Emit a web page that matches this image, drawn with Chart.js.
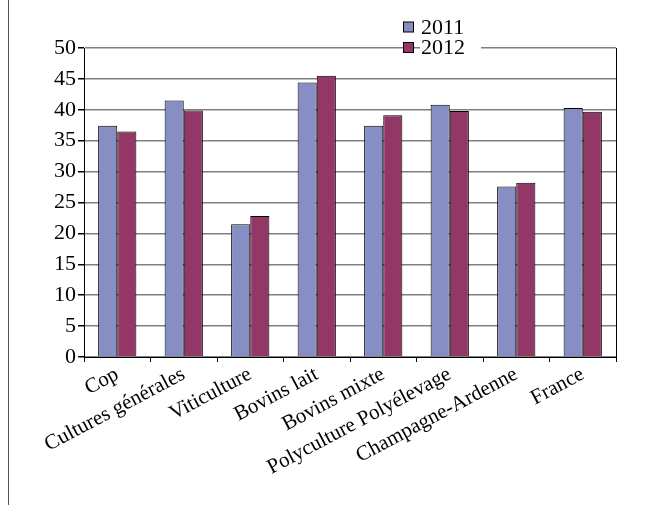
<!DOCTYPE html>
<html>
<head>
<meta charset="utf-8">
<script src="https://cdn.jsdelivr.net/npm/chart.js@4.4.0/dist/chart.umd.min.js"></script>
<style>
  body { margin: 0; background: #fff; }
  canvas { display: block; }
</style>
</head>
<body>
<canvas id="chart" width="666" height="505"></canvas>
<script>
// Data
const categories = ['Cop', 'Cultures générales', 'Viticulture', 'Bovins lait', 'Bovins mixte',
    'Polyculture Polyélevage', 'Champagne-Ardenne', 'France'];
const values2011 = [37.4, 41.5, 21.5, 44.4, 37.4, 40.8, 27.6, 40.3];
const values2012 = [36.5, 39.9, 22.8, 45.5, 39.1, 39.8, 28.2, 39.7];
const seriesLabels = ['2011', '2012'];
const seriesColors = ['#868ec4', '#933767'];

const serif = '"Liberation Serif", "DejaVu Serif", serif';

// Frame line at left, right border of the plot and the legend drawn on top of the grid
const decorations = {
    id: 'decorations',
    beforeDraw(chart) {
        const c = chart.ctx;
        c.save();
        c.strokeStyle = '#555';
        c.lineWidth = 1;
        c.beginPath();
        c.moveTo(8.5, 0);
        c.lineTo(8.5, chart.height);
        c.stroke();
        c.restore();
    },
    afterDraw(chart) {
        const c = chart.ctx;
        const a = chart.chartArea;
        c.save();
        c.strokeStyle = '#000';
        c.lineWidth = 1;
        c.beginPath();
        c.moveTo(Math.round(a.right) + 0.5, a.top);
        c.lineTo(Math.round(a.right) + 0.5, a.bottom);
        c.stroke();

        // legend
        c.fillStyle = '#fff';
        c.fillRect(420, 38, 61, 20);
        c.font = '22px ' + serif;
        c.textBaseline = 'middle';
        seriesLabels.forEach((lab, i) => {
            const y = 27 + i * 20.5;
            c.fillStyle = seriesColors[i];
            c.fillRect(403.5, y - 5, 10, 10);
            c.strokeStyle = '#000';
            c.strokeRect(403.5, y - 5, 10, 10);
            c.fillStyle = '#000';
            c.fillText(lab, 421, y + 1);
        });
        c.restore();
    }
};

const chart = new Chart(document.getElementById('chart'), {
    type: 'bar',
    data: {
        labels: categories,
        datasets: [{
            label: seriesLabels[0],
            data: values2011,
            backgroundColor: seriesColors[0],
            borderColor: '#000',
            borderWidth: 1
        }, {
            label: seriesLabels[1],
            data: values2012,
            backgroundColor: seriesColors[1],
            borderColor: '#000',
            borderWidth: 1
        }]
    },
    options: {
        responsive: false,
        animation: false,
        layout: { padding: { top: 48, right: 50, left: 0, bottom: 0 } },
        plugins: {
            legend: { display: false },
            tooltip: { enabled: false }
        },
        datasets: {
            bar: { categoryPercentage: 0.575, barPercentage: 1 }
        },
        scales: {
            x: {
                afterFit(scale) { scale.height = 148; },
                grid: {
                    offset: true,
                    drawOnChartArea: false,
                    drawTicks: true,
                    tickLength: 5,
                    tickColor: '#000'
                },
                border: { color: '#000', width: 1 },
                ticks: {
                    color: '#000',
                    font: { family: serif, size: 21 },
                    minRotation: 28,
                    maxRotation: 28,
                    autoSkip: false,
                    padding: 0
                }
            },
            y: {
                min: 0,
                max: 50,
                afterFit(scale) { scale.width = 84; },
                grid: {
                    color: '#808080',
                    lineWidth: 1.5,
                    tickColor: '#000',
                    tickLength: 6
                },
                border: { color: '#000', width: 1 },
                ticks: {
                    stepSize: 5,
                    color: '#000',
                    font: { family: serif, size: 22 },
                    padding: 2
                }
            }
        }
    },
    plugins: [decorations]
});
</script>
</body>
</html>
